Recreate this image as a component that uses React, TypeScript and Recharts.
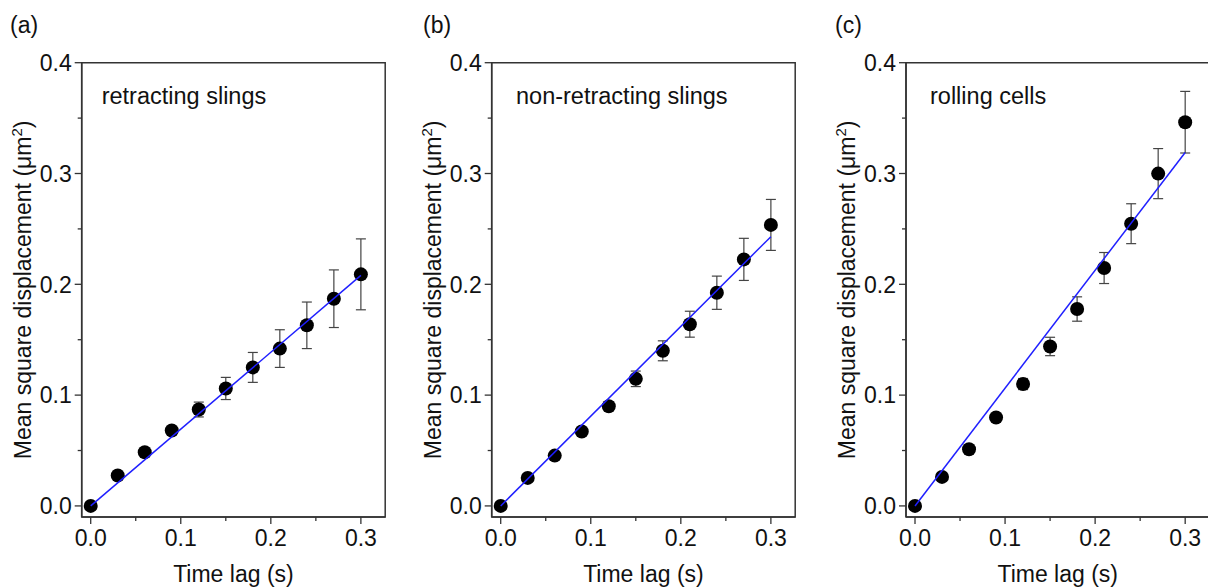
import { ScatterChart, Scatter, XAxis, YAxis, ErrorBar, ReferenceArea } from 'recharts';

// time lag (s) shared by all three panels
const timeLags = [0, 0.03, 0.06, 0.09, 0.12, 0.15, 0.18, 0.21, 0.24, 0.27, 0.3];

// (a) retracting slings
const retractingMsd = [0, 0.0275, 0.0485, 0.068, 0.087, 0.106, 0.125, 0.142, 0.163, 0.187, 0.209];
const retractingErr = [0, 0.002, 0.002, 0.003, 0.0067, 0.01, 0.0135, 0.017, 0.021, 0.026, 0.032];
// (b) non-retracting slings
const nonRetractingMsd = [0, 0.0253, 0.0454, 0.0671, 0.09, 0.1147, 0.14, 0.164, 0.1924, 0.2225, 0.2536];
const nonRetractingErr = [0, 0.002, 0.002, 0.003, 0.004, 0.007, 0.009, 0.0117, 0.015, 0.019, 0.023];
// (c) rolling cells
const rollingMsd = [0, 0.0262, 0.0512, 0.0798, 0.11, 0.1439, 0.1777, 0.2147, 0.2547, 0.2999, 0.3463];
const rollingErr = [0, 0.002, 0.002, 0.003, 0.005, 0.0083, 0.011, 0.014, 0.018, 0.0226, 0.0278];

// linear fits, start and end points
const fitTimes = [0, 0.3];
const retractingFit = [0, 0.208];
const nonRetractingFit = [0, 0.243];
const rollingFit = [0, 0.319];

const xTicks = [0, 0.05, 0.1, 0.15, 0.2, 0.25, 0.3];
const yTicks = [0, 0.05, 0.1, 0.15, 0.2, 0.25, 0.3, 0.35, 0.4];
const panelLetters = ['(a)', '(b)', '(c)'];
const panelTitles = ['retracting slings', 'non-retracting slings', 'rolling cells'];

const FONT = '"Liberation Sans", Arial, sans-serif';
const AXIS = '#333';
const X_DOMAIN = [-0.01, 0.327];
const Y_DOMAIN = [-0.01, 0.4];
const TICK = 7;
const MINOR = 4;
const X_GAP = 6;
const Y_GAP = 3;

const isMajor = (v: number) => Math.abs(v * 10 - Math.round(v * 10)) < 1e-6;

function XTick({ x, y, payload }: any) {
  const axisY = y - TICK - X_GAP;
  const major = isMajor(payload.value);
  return (
    <g>
      <line x1={x} x2={x} y1={axisY} y2={axisY + (major ? TICK : MINOR)} stroke={AXIS} strokeWidth={1.3} />
      {major && (
        <text x={x} y={y} dy="0.71em" textAnchor="middle" fontSize={23} fontFamily={FONT} fill="#111">
          {payload.value.toFixed(1)}
        </text>
      )}
    </g>
  );
}

function YTick({ x, y, payload }: any) {
  const axisX = x + TICK + Y_GAP;
  const major = isMajor(payload.value);
  return (
    <g>
      <line x1={axisX} x2={axisX - (major ? TICK : MINOR)} y1={y} y2={y} stroke={AXIS} strokeWidth={1.3} />
      {major && (
        <text x={x} y={y} dy="0.36em" textAnchor="end" fontSize={23} fontFamily={FONT} fill="#111">
          {payload.value.toFixed(1)}
        </text>
      )}
    </g>
  );
}

function YTitle({ viewBox }: any) {
  const cx = viewBox.x + 31.5;
  const cy = viewBox.y + viewBox.height / 2;
  return (
    <text x={cx} y={cy} transform={`rotate(-90, ${cx}, ${cy})`} textAnchor="middle" fontSize={23} fontFamily={FONT} fill="#111">
      Mean square displacement (μm<tspan dy={-9} fontSize={15}>2</tspan><tspan dy={9}>)</tspan>
    </text>
  );
}

function Panel({ msd, err, fit, left, yWidth }: { msd: number[]; err: number[]; fit: number[]; left: number; yWidth: number }) {
  const points = timeLags.map((t, i) => ({ t, msd: msd[i], err: err[i] }));
  const line = fitTimes.map((t, i) => ({ t, msd: fit[i] }));
  return (
    <div style={{ position: 'absolute', left, top: 0 }}>
      <ScatterChart width={410} height={588} margin={{ top: 62.7, right: 410 - yWidth - 303.5, bottom: 0, left: 0 }}>
        <XAxis
          type="number"
          dataKey="t"
          domain={X_DOMAIN}
          ticks={xTicks}
          interval={0}
          allowDataOverflow
          height={71}
          tickSize={TICK}
          tickMargin={X_GAP}
          tickLine={false}
          tick={<XTick />}
          axisLine={{ stroke: AXIS, strokeWidth: 1.5 }}
          label={{ value: 'Time lag (s)', position: 'insideBottom', offset: 6, fill: '#111', fontSize: 23, fontFamily: FONT }}
        />
        <YAxis
          type="number"
          dataKey="msd"
          domain={Y_DOMAIN}
          ticks={yTicks}
          interval={0}
          allowDataOverflow
          width={yWidth}
          tickSize={TICK}
          tickMargin={Y_GAP}
          tickLine={false}
          tick={<YTick />}
          axisLine={{ stroke: AXIS, strokeWidth: 1.5 }}
          label={<YTitle />}
        />
        <ReferenceArea x1={X_DOMAIN[0]} x2={X_DOMAIN[1]} y1={Y_DOMAIN[0]} y2={Y_DOMAIN[1]} fill="none" stroke={AXIS} strokeWidth={1.5} />
        <Scatter
          data={points}
          isAnimationActive={false}
          shape={(p: any) => <circle cx={p.cx} cy={p.cy} r={7} fill="#000" />}
        >
          <ErrorBar dataKey="err" direction="y" width={5} stroke="#444" strokeWidth={1.2} />
        </Scatter>
        <Scatter
          data={line}
          isAnimationActive={false}
          line={{ stroke: '#1f1fff', strokeWidth: 1.5 }}
          shape={() => <g />}
        />
      </ScatterChart>
    </div>
  );
}

export default function App() {
  const lefts = [0, 410, 824];
  const yWidths = [81.7, 81.7, 82];
  const letterX = [10, 423, 835];
  const titleX = [101.7, 516, 930];
  return (
    <div style={{ position: 'absolute', left: 0, top: 0, width: 1208, height: 588, overflow: 'hidden', background: '#fff' }}>
      <Panel msd={retractingMsd} err={retractingErr} fit={retractingFit} left={lefts[0]} yWidth={yWidths[0]} />
      <Panel msd={nonRetractingMsd} err={nonRetractingErr} fit={nonRetractingFit} left={lefts[1]} yWidth={yWidths[1]} />
      <Panel msd={rollingMsd} err={rollingErr} fit={rollingFit} left={lefts[2]} yWidth={yWidths[2]} />
      <svg width={1208} height={588} style={{ position: 'absolute', left: 0, top: 0, pointerEvents: 'none' }}>
        {panelLetters.map((s, i) => (
          <text key={s} x={letterX[i]} y={33} fontSize={23} fontFamily={FONT} fill="#111">{s}</text>
        ))}
        {panelTitles.map((s, i) => (
          <text key={s} x={titleX[i]} y={103.5} fontSize={23.5} fontFamily={FONT} fill="#111">{s}</text>
        ))}
      </svg>
    </div>
  );
}
